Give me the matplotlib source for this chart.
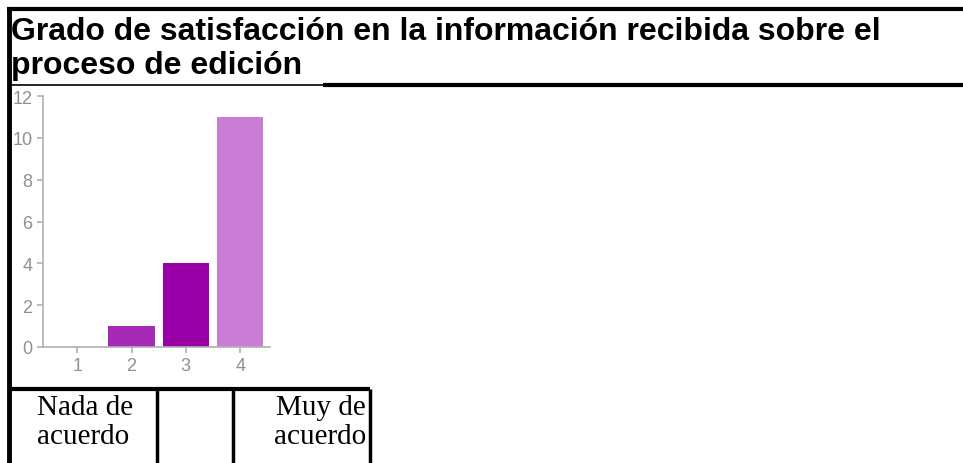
import matplotlib
matplotlib.use("Agg")
import matplotlib.pyplot as plt
from matplotlib.lines import Line2D

# datos de la encuesta
categorias = [1, 2, 3, 4]
respuestas = [0, 1, 4, 11]
colores = ["#a52ab5", "#a52ab5", "#9900a8", "#c97dd5"]
yticks = [0, 2, 4, 6, 8, 10, 12]
titulo = ["Grado de satisfacción en la información recibida sobre el",
          "proceso de edición"]
etiqueta_izq = ["Nada de", "acuerdo"]
etiqueta_der = ["Muy de", "acuerdo"]

W, H = 963, 464
fig = plt.figure(figsize=(W / 100, H / 100), dpi=100)

# capa de fondo en pixeles (y hacia abajo)
fondo = fig.add_axes([0, 0, 1, 1])
fondo.set_xlim(0, W)
fondo.set_ylim(H, 0)
fondo.axis("off")

def linea(x0, y0, x1, y1, lw):
    fondo.add_line(Line2D([x0, x1], [y0, y1], color="black", lw=lw, solid_capstyle="butt"))

linea(7, 10, W, 10, 3)        # borde superior
linea(9, 10, 9, H, 3.5)       # borde izquierdo
linea(9, 86, 323, 86, 1.2)    # linea bajo el titulo
linea(323, 86, W, 86, 3)
linea(9, 390, 370, 390, 3)    # tabla inferior
linea(157, 390, 157, H, 2.5)
linea(233, 390, 233, H, 2.5)
linea(370, 390, 370, H, 2.5)

for i, t in enumerate(titulo):
    fondo.text(11, 40 + 34 * i, t, fontsize=23, fontweight="bold",
               family="Liberation Sans", va="baseline", ha="left")

for i in range(2):
    fondo.text(37, 415 + 29 * i, etiqueta_izq[i], fontsize=21,
               family="Liberation Serif", va="baseline", ha="left")
    fondo.text(366, 415 + 29 * i, etiqueta_der[i], fontsize=21,
               family="Liberation Serif", va="baseline", ha="right")

# grafico de barras
x0, x1, y0, y1 = 43, 270, 348, 97
ax = fig.add_axes([x0 / W, (H - y0) / H, (x1 - x0) / W, (y0 - y1) / H])
ax.bar(categorias, respuestas, width=0.85, color=colores)
ax.set_xlim(0.37, 4.55)
ax.set_ylim(0, 12)
ax.set_xticks(categorias)
ax.set_yticks(yticks)
ax.patch.set_alpha(0)
for s in ["top", "right"]:
    ax.spines[s].set_visible(False)
for s in ["left", "bottom"]:
    ax.spines[s].set_color("#b0b0b0")
    ax.spines[s].set_linewidth(1.2)
ax.tick_params(colors="#b0b0b0", labelcolor="#909090", length=4, width=1.2,
               labelsize=13)
for lab in ax.get_xticklabels() + ax.get_yticklabels():
    lab.set_family("Liberation Sans")

fig.savefig("out.png", dpi=100)
